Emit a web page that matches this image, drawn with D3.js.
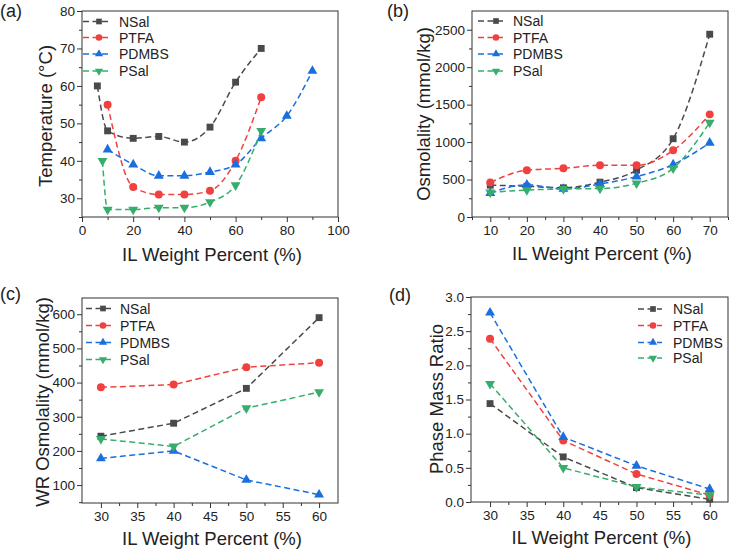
<!DOCTYPE html>
<html><head><meta charset="utf-8">
<script src="https://cdn.jsdelivr.net/npm/d3@7"></script>
<style>
body{margin:0;background:#fff;}
svg text{font-family:"Liberation Sans",Arial,sans-serif;fill:#222;}
</style></head>
<body><svg id="c" width="730" height="551"></svg>
<script>
// ---------- data ----------
const seriesNames = ["NSal", "PTFA", "PDMBS", "PSal"];
const seriesColors = ["#4a4a4a", "#f14040", "#1a6fdf", "#37ad6b"];

// (a) Temperature vs IL weight percent
const tempX_NSal  = [6, 10, 20, 30, 40, 50, 60, 70];
const tempY_NSal  = [60, 48, 46, 46.5, 45, 49, 61, 70];
const tempX_PTFA  = [10, 20, 30, 40, 50, 60, 70];
const tempY_PTFA  = [55, 33, 31, 31, 32, 40, 57];
const tempX_PDMBS = [10, 20, 30, 40, 50, 60, 70, 80, 90];
const tempY_PDMBS = [43, 39, 36, 36, 37, 39, 46, 52, 64];
const tempX_PSal  = [8, 10, 20, 30, 40, 50, 60, 70];
const tempY_PSal  = [40, 27, 27, 27.5, 27.5, 29, 33.5, 48];

// (b) Osmolality
const osmX       = [10, 20, 30, 40, 50, 60, 70];
const osm_NSal   = [425, 410, 390, 465, 625, 1045, 2440];
const osm_PTFA   = [460, 625, 650, 690, 690, 890, 1370];
const osm_PDMBS  = [320, 430, 375, 440, 540, 700, 990];
const osm_PSal   = [330, 360, 375, 380, 450, 650, 1260];

// (c) WR Osmolality
const wrX        = [30, 40, 50, 60];
const wr_NSal    = [243, 281, 383, 590];
const wr_PTFA    = [386, 394, 445, 458];
const wr_PDMBS   = [178, 200, 115, 72];
const wr_PSal    = [235, 213, 325, 372];

// (d) Phase mass ratio
const pmrX       = [30, 40, 50, 60];
const pmr_NSal   = [1.44, 0.66, 0.21, 0.04];
const pmr_PTFA   = [2.39, 0.90, 0.41, 0.10];
const pmr_PDMBS  = [2.77, 0.95, 0.53, 0.19];
const pmr_PSal   = [1.73, 0.50, 0.22, 0.10];

// tick values
const tempXTicks = [0, 20, 40, 60, 80, 100];
const tempYTicks = [30, 40, 50, 60, 70, 80];
const osmXTicks  = [10, 20, 30, 40, 50, 60, 70];
const osmYTicks  = [0, 500, 1000, 1500, 2000, 2500];
const wrXTicks   = [30, 35, 40, 45, 50, 55, 60];
const wrYTicks   = [100, 200, 300, 400, 500, 600];
const pmrXTicks  = [30, 35, 40, 45, 50, 55, 60];
const pmrYTicks  = [0, 0.5, 1.0, 1.5, 2.0, 2.5, 3.0];

// ---------- drawing ----------
const svg = d3.select("#c");

function symFor(i, size) {
  const types = [d3.symbolSquare, d3.symbolCircle, d3.symbolTriangle, d3.symbolTriangle];
  const sizes = [size * 0.95, size, size * 0.85, size * 0.85];
  return d3.symbol().type(types[i]).size(sizes[i])();
}

function panel(o) {
  const g = svg.append("g");
  const x = d3.scaleLinear().domain(o.xDomain).range([o.L, o.R]);
  const y = d3.scaleLinear().domain(o.yDomain).range([o.B, o.T]);

  g.append("rect").attr("x", o.L).attr("y", o.T).attr("width", o.R - o.L).attr("height", o.B - o.T)
    .attr("fill", "none").attr("stroke", "#333").attr("stroke-width", 1);

  const xAx = d3.axisBottom(x).tickValues(o.xTicks).tickSize(5).tickPadding(3).tickFormat(o.xFmt || d3.format("d"));
  const yAx = d3.axisLeft(y).tickValues(o.yTicks).tickSize(5).tickPadding(2).tickFormat(o.yFmt || d3.format("d"));
  const xm = d3.axisBottom(x).tickValues(o.xMinor).tickSize(3).tickFormat("");
  const ym = d3.axisLeft(y).tickValues(o.yMinor).tickSize(3).tickFormat("");
  [[xAx, "translate(0," + o.B + ")"], [xm, "translate(0," + o.B + ")"], [yAx, "translate(" + o.L + ",0)"], [ym, "translate(" + o.L + ",0)"]]
    .forEach(([ax, tr]) => {
      const a = g.append("g").attr("transform", tr).call(ax);
      a.select(".domain").remove();
      a.selectAll("line").attr("stroke", "#333");
      a.selectAll("text").style("font-size", "13.5px").attr("fill", "#222");
    });

  const line = d3.line().x(d => x(d[0])).y(d => y(d[1])).curve(o.curve || d3.curveLinear);
  o.series.forEach((s, i) => {
    const pts = s.xs.map((v, k) => [v, s.ys[k]]);
    g.append("path").datum(pts).attr("d", line).attr("fill", "none")
      .attr("stroke", seriesColors[i]).attr("stroke-width", 1.5).attr("stroke-dasharray", "6,3.5");
    g.selectAll(null).data(pts).enter().append("path")
      .attr("d", symFor(i, 50))
      .attr("transform", d => "translate(" + x(d[0]) + "," + y(d[1]) + ")" + (i === 3 ? " rotate(180)" : ""))
      .attr("fill", seriesColors[i]);
  });

  seriesNames.forEach((n, i) => {
    const ly = o.leg.ys[i];
    g.append("line").attr("x1", o.leg.x1).attr("x2", o.leg.x2).attr("y1", ly).attr("y2", ly)
      .attr("stroke", seriesColors[i]).attr("stroke-width", 1.5).attr("stroke-dasharray", "6,3.5");
    g.append("path").attr("d", symFor(i, 34))
      .attr("transform", "translate(" + o.leg.mx + "," + ly + ")" + (i === 3 ? " rotate(180)" : ""))
      .attr("fill", seriesColors[i]);
    g.append("text").attr("x", o.leg.tx).attr("y", ly).attr("dy", "0.36em")
      .style("font-size", "14px").text(n);
  });

  g.append("text").attr("x", (o.L + o.R) / 2 + 2).attr("y", o.xtY).attr("text-anchor", "middle")
    .style("font-size", "18.5px").text("IL Weight Percent (%)");
  g.append("text").attr("transform", "translate(" + o.ytX + "," + o.ytY + ") rotate(-90)")
    .attr("text-anchor", "middle").attr("dy", "0.36em").style("font-size", "18.5px").text(o.yTitle);
  g.append("text").attr("x", o.lab[0]).attr("y", o.lab[1]).style("font-size", "18px").text(o.label);
}

panel({
  L: 82, R: 338, T: 11, B: 217, xDomain: [0, 100], yDomain: [25, 80],
  xTicks: tempXTicks, xMinor: [10, 30, 50, 70, 90], yTicks: tempYTicks, yMinor: [25, 35, 45, 55, 65, 75],
  curve: d3.curveMonotoneX,
  series: [
    {xs: tempX_NSal, ys: tempY_NSal}, {xs: tempX_PTFA, ys: tempY_PTFA},
    {xs: tempX_PDMBS, ys: tempY_PDMBS}, {xs: tempX_PSal, ys: tempY_PSal}],
  leg: {x1: 83, x2: 110, mx: 99, tx: 119, ys: [21.5, 37.5, 54, 71]},
  xtY: 261, ytX: 45, ytY: 116, yTitle: "Temperature (°C)", label: "(a)", lab: [0, 17]
});

panel({
  L: 472, R: 728, T: 11, B: 217, xDomain: [5, 75], yDomain: [0, 2750],
  xTicks: osmXTicks, xMinor: [5, 15, 25, 35, 45, 55, 65, 75], yTicks: osmYTicks, yMinor: [250, 750, 1250, 1750, 2250],
  curve: d3.curveMonotoneX,
  series: [
    {xs: osmX, ys: osm_NSal}, {xs: osmX, ys: osm_PTFA},
    {xs: osmX, ys: osm_PDMBS}, {xs: osmX, ys: osm_PSal}],
  leg: {x1: 478, x2: 505, mx: 496, tx: 513, ys: [21, 37.5, 54, 71]},
  xtY: 260, ytX: 423, ytY: 114, yTitle: "Osmolality (mmol/kg)", label: "(b)", lab: [387, 17]
});

panel({
  L: 82, R: 338, T: 298, B: 503, xDomain: [27.4, 62.6], yDomain: [47.5, 647.5],
  xTicks: wrXTicks, xMinor: [32.5, 37.5, 42.5, 47.5, 52.5, 57.5], yTicks: wrYTicks, yMinor: [50, 150, 250, 350, 450, 550],
  series: [
    {xs: wrX, ys: wr_NSal}, {xs: wrX, ys: wr_PTFA},
    {xs: wrX, ys: wr_PDMBS}, {xs: wrX, ys: wr_PSal}],
  leg: {x1: 86, x2: 112, mx: 103, tx: 120, ys: [308.5, 325.5, 342.5, 359.5]},
  xtY: 545, ytX: 42, ytY: 402, yTitle: "WR Osmolality (mmol/kg)", label: "(c)", lab: [0, 300]
});

panel({
  L: 471, R: 728, T: 297, B: 502, xDomain: [27.4, 62.5], yDomain: [0, 3],
  xTicks: pmrXTicks, xMinor: [32.5, 37.5, 42.5, 47.5, 52.5, 57.5], yTicks: pmrYTicks, yMinor: [0.25, 0.75, 1.25, 1.75, 2.25, 2.75],
  yFmt: d3.format(".1f"),
  series: [
    {xs: pmrX, ys: pmr_NSal}, {xs: pmrX, ys: pmr_PTFA},
    {xs: pmrX, ys: pmr_PDMBS}, {xs: pmrX, ys: pmr_PSal}],
  leg: {x1: 638, x2: 662, mx: 653, tx: 673, ys: [309, 325.5, 342.5, 358]},
  xtY: 544, ytX: 436, ytY: 399, yTitle: "Phase Mass Ratio", label: "(d)", lab: [389, 301]
});
</script></body></html>
